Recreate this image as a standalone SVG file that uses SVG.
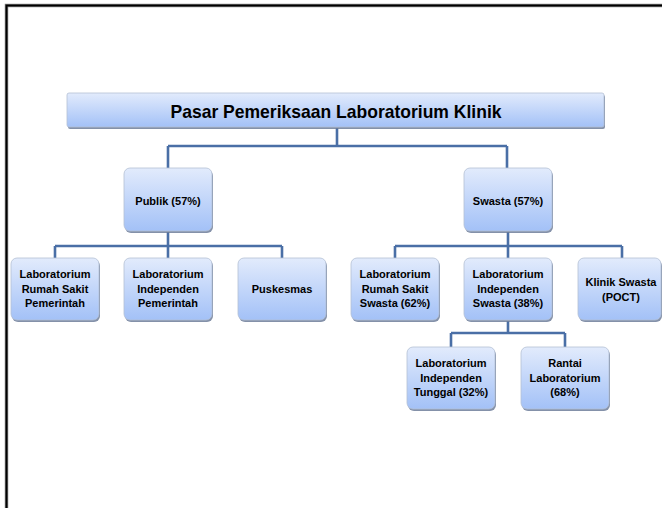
<svg xmlns="http://www.w3.org/2000/svg" width="662" height="508" viewBox="0 0 662 508">
<defs>
<linearGradient id="g" x1="0" y1="0" x2="0" y2="1">
<stop offset="0" stop-color="#e2ebfc"/>
<stop offset="1" stop-color="#a3c1f7"/>
</linearGradient>
</defs>
<style>
.box{fill:url(#g);stroke:#b4c0d4;stroke-width:0.8}
.sh{fill:#6e7e9a;opacity:0.85}
.t{font-family:"Liberation Sans",Arial,sans-serif;font-weight:bold;font-size:11px;fill:#000;text-anchor:middle}
.title{font-size:19px}
.ln{fill:none;stroke:#4a6fa6;stroke-width:2.6}
</style>
<rect width="662" height="508" fill="#fff"/>
<path d="M6.5,508 V5.5 H662" fill="none" stroke="#888" stroke-width="3.5"/>
<path d="M6.5,508 V5.5 H662" fill="none" stroke="#000" stroke-width="2"/>
<g id="connectors">
<path class="ln" d="M337,128 V146 M168,146 H507 M168,146 V168 M507,146 V168"/>
<path class="ln" d="M168,232 V246 M55,246 H282 M55,246 V258 M168,246 V258 M282,246 V258"/>
<path class="ln" d="M508,232 V246 M395,246 H622 M395,246 V258 M508,246 V258 M622,246 V258"/>
<path class="ln" d="M508,321 V333 M451,333 H565 M451,333 V347 M565,333 V347"/>
</g>
<g id="title">
<rect class="sh" x="68" y="95" width="537" height="34" rx="2"/>
<rect class="box" x="67" y="93" width="537" height="34" rx="2"/>
<text class="t title" x="336" y="118" textLength="331" lengthAdjust="spacingAndGlyphs">Pasar Pemeriksaan Laboratorium Klinik</text>
</g>
<g id="publik">
<rect class="sh" x="125" y="170" width="88" height="63" rx="6"/>
<rect class="box" x="124" y="168" width="88" height="63" rx="6"/>
<text class="t" x="168" y="205">Publik (57%)</text>
</g>
<g id="swasta">
<rect class="sh" x="465" y="170" width="88" height="63" rx="6"/>
<rect class="box" x="464" y="168" width="88" height="63" rx="6"/>
<text class="t" x="508" y="205">Swasta (57%)</text>
</g>
<g id="lab-rs-pemerintah">
<rect class="sh" x="12" y="260" width="88" height="62" rx="6"/>
<rect class="box" x="11" y="258" width="88" height="62" rx="6"/>
<text class="t" x="55" y="278">Laboratorium</text>
<text class="t" x="55" y="293">Rumah Sakit</text>
<text class="t" x="55" y="307">Pemerintah</text>
</g>
<g id="lab-ind-pemerintah">
<rect class="sh" x="125" y="260" width="88" height="62" rx="6"/>
<rect class="box" x="124" y="258" width="88" height="62" rx="6"/>
<text class="t" x="168" y="278">Laboratorium</text>
<text class="t" x="168" y="293">Independen</text>
<text class="t" x="168" y="307">Pemerintah</text>
</g>
<g id="puskesmas">
<rect class="sh" x="239" y="260" width="88" height="62" rx="6"/>
<rect class="box" x="238" y="258" width="88" height="62" rx="6"/>
<text class="t" x="282" y="293">Puskesmas</text>
</g>
<g id="lab-rs-swasta">
<rect class="sh" x="352" y="260" width="88" height="62" rx="6"/>
<rect class="box" x="351" y="258" width="88" height="62" rx="6"/>
<text class="t" x="395" y="278">Laboratorium</text>
<text class="t" x="395" y="293">Rumah Sakit</text>
<text class="t" x="395" y="307">Swasta (62%)</text>
</g>
<g id="lab-ind-swasta">
<rect class="sh" x="465" y="260" width="88" height="62" rx="6"/>
<rect class="box" x="464" y="258" width="88" height="62" rx="6"/>
<text class="t" x="508" y="278">Laboratorium</text>
<text class="t" x="508" y="293">Independen</text>
<text class="t" x="508" y="307">Swasta (38%)</text>
</g>
<g id="klinik-swasta">
<rect class="sh" x="579" y="260" width="83" height="62" rx="6"/>
<rect class="box" x="578" y="258" width="83" height="62" rx="6"/>
<text class="t" x="621" y="286">Klinik Swasta</text>
<text class="t" x="621" y="301">(POCT)</text>
</g>
<g id="lab-ind-tunggal">
<rect class="sh" x="408" y="349" width="88" height="62" rx="6"/>
<rect class="box" x="407" y="347" width="88" height="62" rx="6"/>
<text class="t" x="451" y="367">Laboratorium</text>
<text class="t" x="451" y="382">Independen</text>
<text class="t" x="451" y="396">Tunggal (32%)</text>
</g>
<g id="rantai-lab">
<rect class="sh" x="522" y="349" width="88" height="62" rx="6"/>
<rect class="box" x="521" y="347" width="88" height="62" rx="6"/>
<text class="t" x="565" y="367">Rantai</text>
<text class="t" x="565" y="382">Laboratorium</text>
<text class="t" x="565" y="396">(68%)</text>
</g>
</svg>
